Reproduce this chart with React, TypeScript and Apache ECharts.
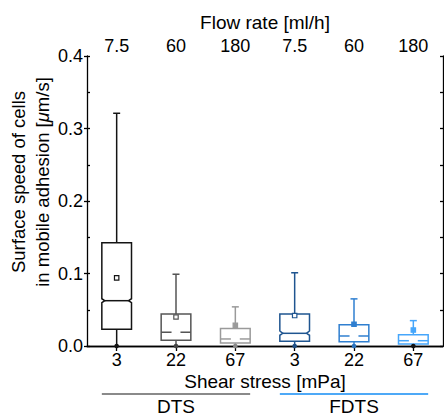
import React, { useEffect, useRef } from "react";
import * as echarts from "echarts";

const flowRates = ["7.5", "60", "180", "7.5", "60", "180"];
const shearStress = ["3", "22", "67", "3", "22", "67"];
const groupNames = ["DTS", "FDTS"];
const yTicks = [0, 0.1, 0.2, 0.3, 0.4];

const whiskerLow = [0, 0, 0, 0, 0, 0];
const q1 = [0.023, 0.008, 0.004, 0.0065, 0.006, 0.0028];
const median = [0.0625, 0.019, 0.0097, 0.0175, 0.0138, 0.0073];
const q3 = [0.1425, 0.044, 0.024, 0.044, 0.0294, 0.0156];
const whiskerHigh = [0.321, 0.099, 0.054, 0.101, 0.065, 0.035];
const mean = [0.094, 0.04, 0.0285, 0.042, 0.03, 0.022];
const notchLow = [0.0597, null, null, 0.0148, null, null];
const notchHigh = [0.0652, null, null, 0.0207, null, null];

// styles
const boxColors = ["#141414", "#555555", "#9a9a9a", "#1f5590", "#2f7fd0", "#46a6fb"];
const markerColors = ["#141414", "#444444", "#888888", "#1f4f85", "#2a72bd", "#111111"];
const meanFilled = [false, false, true, false, true, true];
const groupColors = ["#8a8a8a", "#4ea9f7"];
const FONT = "Liberation Sans, Arial, Helvetica, sans-serif";

export default function App() {
  const ref = useRef<HTMLDivElement>(null);
  useEffect(() => {
    if (!ref.current) return;
    const chart = echarts.init(ref.current, null, { renderer: "svg" });
    const data = shearStress.map((_, i) => [i, whiskerLow[i], q1[i], median[i], q3[i], whiskerHigh[i], mean[i]]);
    const lineW = 1.5;

    const renderItem = (params: any, api: any) => {
      const i = params.dataIndex;
      const x = api.value(0);
      const pLow = api.coord([x, api.value(1)]);
      const pQ1 = api.coord([x, api.value(2)]);
      const pMed = api.coord([x, api.value(3)]);
      const pQ3 = api.coord([x, api.value(4)]);
      const pHigh = api.coord([x, api.value(5)]);
      const pMean = api.coord([x, api.value(6)]);
      const band = api.size([1, 0])[0];
      const half = band * 0.25;
      const cx = pMed[0];
      const L = cx - half;
      const R = cx + half;
      const color = boxColors[i];
      const stroke = { stroke: color, lineWidth: lineW, fill: "none" };
      const children: any[] = [];
      // upper whisker
      children.push({ type: "line", shape: { x1: cx, y1: pQ3[1], x2: cx, y2: pHigh[1] }, style: stroke });
      children.push({ type: "line", shape: { x1: cx - 3.5, y1: pHigh[1], x2: cx + 3.5, y2: pHigh[1] }, style: stroke });
      // lower whisker
      children.push({ type: "line", shape: { x1: cx, y1: pQ1[1], x2: cx, y2: pLow[1] }, style: stroke });
      if (notchLow[i] != null && notchHigh[i] != null) {
        const nLo = api.coord([x, notchLow[i]])[1];
        const nHi = api.coord([x, notchHigh[i]])[1];
        const ind = half * 0.2;
        children.push({
          type: "polygon",
          shape: {
            points: [
              [L, pQ3[1]], [R, pQ3[1]], [R, nHi], [R - ind, pMed[1]], [R, nLo], [R, pQ1[1]],
              [L, pQ1[1]], [L, nLo], [L + ind, pMed[1]], [L, nHi],
            ],
          },
          style: { stroke: color, lineWidth: lineW, fill: "#fff" },
        });
        children.push({ type: "line", shape: { x1: L + ind, y1: pMed[1], x2: R - ind, y2: pMed[1] }, style: stroke });
      } else {
        children.push({
          type: "rect",
          shape: { x: L, y: pQ3[1], width: R - L, height: pQ1[1] - pQ3[1] },
          style: { stroke: color, lineWidth: lineW, fill: "#fff" },
        });
        children.push({ type: "line", shape: { x1: L, y1: pMed[1], x2: L + half * 0.7, y2: pMed[1] }, style: stroke });
        children.push({ type: "line", shape: { x1: R - half * 0.7, y1: pMed[1], x2: R, y2: pMed[1] }, style: stroke });
      }
      // mean marker
      children.push({
        type: "rect",
        shape: { x: cx - 2.2, y: pMean[1] - 2.2, width: 4.4, height: 4.4 },
        style: { stroke: color, lineWidth: 1.2, fill: meanFilled[i] ? color : "#fff" },
      });
      // low marker
      children.push({
        type: "circle",
        shape: { cx, cy: pLow[1], r: 2.3 },
        style: { fill: markerColors[i], stroke: "none" },
      });
      return { type: "group", children };
    };

    const axisLineStyle = { color: "#000", width: 1.3 };
    const option: any = {
      animation: false,
      backgroundColor: "#fff",
      textStyle: { fontFamily: FONT },
      grid: { left: 87, right: 1, top: 56, bottom: 70 },
      xAxis: [
        {
          type: "category",
          data: shearStress,
          position: "bottom",
          boundaryGap: true,
          axisLine: { lineStyle: axisLineStyle },
          axisTick: { show: false },
          axisLabel: { fontSize: 18, lineHeight: 16, color: "#000", margin: 6, fontFamily: FONT },
          splitLine: { show: false },
        },
        {
          type: "category",
          data: flowRates,
          position: "top",
          boundaryGap: true,
          axisLine: { lineStyle: axisLineStyle },
          axisTick: { show: true, alignWithLabel: true, inside: true, length: 5, lineStyle: axisLineStyle },
          axisLabel: { fontSize: 18, lineHeight: 16, color: "#000", margin: 2, fontFamily: FONT },
          splitLine: { show: false },
        },
      ],
      yAxis: [
        {
          type: "value",
          min: yTicks[0],
          max: yTicks[yTicks.length - 1],
          interval: 0.1,
          position: "left",
          axisLine: { show: true, lineStyle: axisLineStyle },
          axisTick: { show: true, inside: false, length: 3, lineStyle: axisLineStyle },
          axisLabel: { fontSize: 18, color: "#000", margin: 4, fontFamily: FONT, formatter: (v: number) => v.toFixed(1) },
          splitLine: { show: false },
        },
        {
          type: "value",
          min: 0,
          max: 0.4,
          interval: 0.05,
          position: "left",
          axisLine: { show: false },
          axisTick: { show: true, inside: true, length: 3, lineStyle: axisLineStyle },
          axisLabel: { show: false },
          splitLine: { show: false },
        },
        {
          type: "value",
          min: 0,
          max: 0.4,
          interval: 0.05,
          position: "right",
          axisLine: { show: true, lineStyle: axisLineStyle },
          axisTick: { show: true, inside: true, length: 3, lineStyle: axisLineStyle },
          axisLabel: { show: false },
          splitLine: { show: false },
        },
      ],
      series: [
        {
          type: "custom",
          xAxisIndex: 0,
          yAxisIndex: 0,
          renderItem,
          encode: { x: 0, y: [1, 2, 3, 4, 5, 6] },
          data,
          clip: false,
          z: 5,
        },
      ],
    };
    chart.setOption(option);

    // group annotations, positioned from the axis scale
    const px = (i: number) => chart.convertToPixel({ xAxisIndex: 0 } as any, i) as unknown as number;
    const band = px(1) - px(0);
    const halfBox = band * 0.25;
    const groups = [
      { name: groupNames[0], from: 0, to: 2 },
      { name: groupNames[1], from: 3, to: 5 },
    ];
    const graphic: any[] = [];
    groups.forEach((g, k) => {
      const x1 = px(g.from) - halfBox;
      const x2 = px(g.to) + halfBox;
      graphic.push({
        type: "line",
        shape: { x1, y1: 394, x2, y2: 394 },
        style: { stroke: groupColors[k], lineWidth: 2 },
      });
      graphic.push({
        type: "text",
        x: (x1 + x2) / 2,
        y: 406,
        style: { text: g.name, fontSize: 19, lineHeight: 18, fontFamily: FONT, fill: "#000", align: "center", verticalAlign: "middle" },
      });
    });
    const plotCenter = (px(0) + px(5)) / 2;
    graphic.push({
      type: "text",
      x: plotCenter,
      y: 22,
      style: { text: "Flow rate [ml/h]", fontSize: 19, fontFamily: FONT, fill: "#000", align: "center", verticalAlign: "middle" },
    });
    graphic.push({
      type: "text",
      x: plotCenter,
      y: 381,
      style: { text: "Shear stress [mPa]", fontSize: 19, lineHeight: 16, fontFamily: FONT, fill: "#000", align: "center", verticalAlign: "middle" },
    });
    graphic.push({
      type: "text",
      x: 30,
      y: 182,
      rotation: Math.PI / 2,
      style: {
        text: "Surface speed of cells\nin mobile adhesion [{i|μ}m/s]",
        fontSize: 18.5,
        fontFamily: FONT,
        fill: "#000",
        align: "center",
        verticalAlign: "middle",
        lineHeight: 24,
        rich: { i: { fontStyle: "italic", fontSize: 18.5, fontFamily: FONT, fill: "#000", lineHeight: 24 } },
      },
    });
    chart.setOption({ graphic });

    return () => chart.dispose();
  }, []);

  return (
    <div
      ref={ref}
      style={{ position: "fixed", left: 0, top: 0, width: 444, height: 416, background: "#fff" }}
    />
  );
}
